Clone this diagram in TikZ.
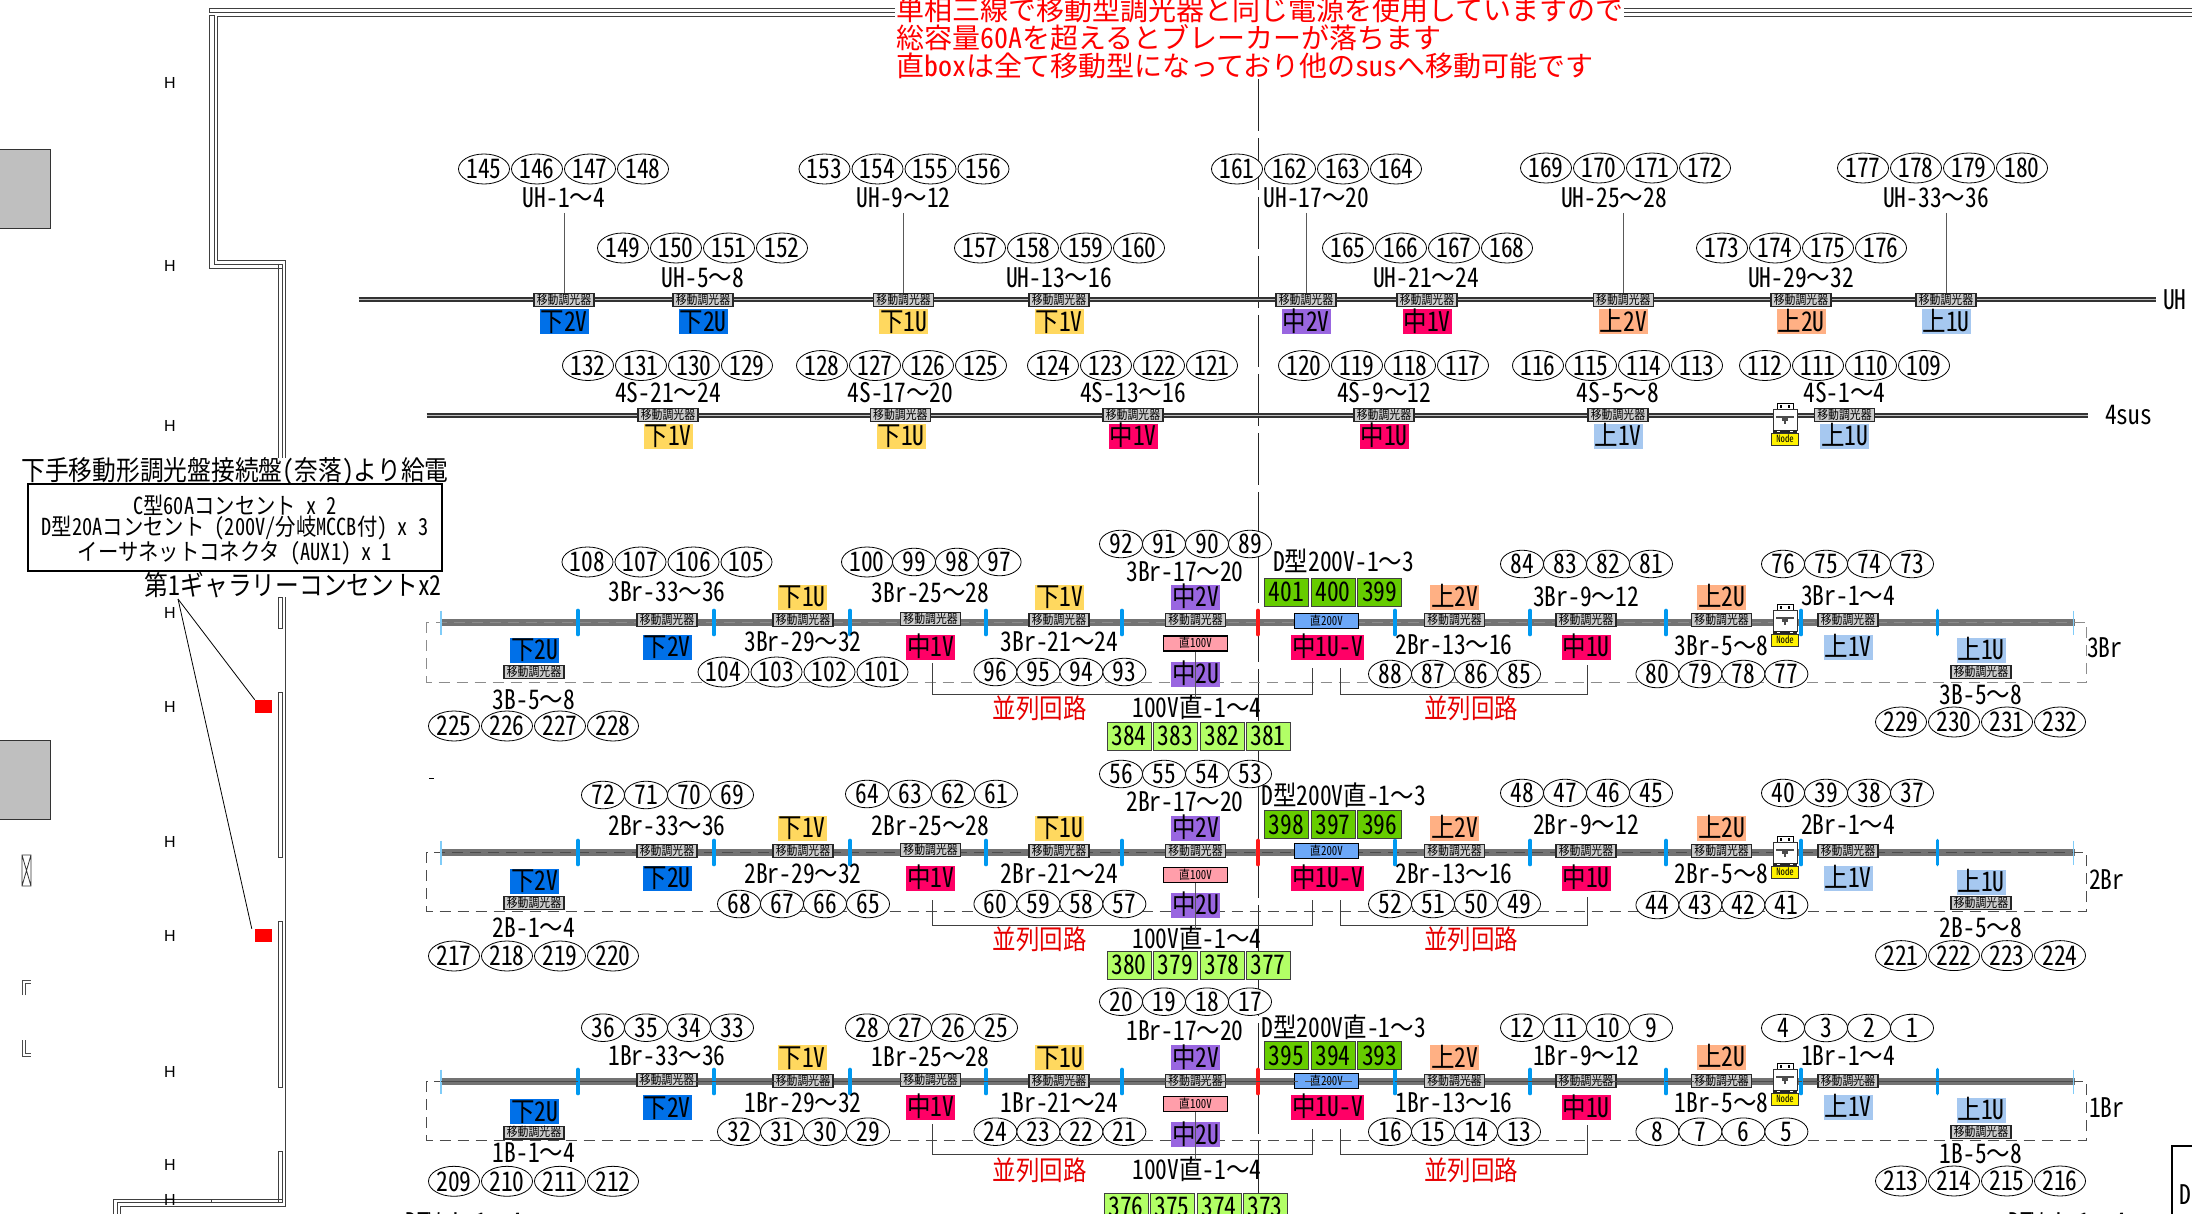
\documentclass[tikz,border=0pt]{standalone}
\usepackage{fontspec}
\usetikzlibrary{shapes.geometric}
\setmainfont{Noto Sans CJK JP}
\newfontfamily\lbf[FakeStretch=0.87]{Noto Sans CJK JP}
\newfontfamily\hwf[FakeStretch=0.87,RawFeature=+hwid]{Noto Sans CJK JP}
\newfontfamily\rdf{Noto Sans CJK JP}
\newfontfamily\rhw[RawFeature=+hwid]{Noto Sans CJK JP}
\newfontfamily\hf{Liberation Sans}
\newcommand\lbl{\fontsize{27}{27}\selectfont\hwf}
\newcommand\wv{{\lbf ～}}
\definecolor{cblue}{HTML}{0070E8}
\definecolor{cyel}{HTML}{FFD85F}
\definecolor{cpur}{HTML}{9966E0}
\definecolor{ccri}{HTML}{FF0066}
\definecolor{cora}{HTML}{FFB084}
\definecolor{clbl}{HTML}{A6C8F0}
\definecolor{cdg}{HTML}{66CC00}
\definecolor{clg}{HTML}{B2FF66}
\definecolor{ctick}{HTML}{0099F0}
\definecolor{redt}{HTML}{E60000}
\definecolor{d2c}{HTML}{6CA8F8}
\definecolor{d1c}{HTML}{FF9EAA}
\newcounter{nm}
\tikzset{
  ov/.style={ellipse,draw=black,fill=white,line width=.8pt,inner sep=0pt,minimum width=51pt,minimum height=30pt,font=\lbl,text height=19.5pt,text depth=0pt},
  ovs/.style={ov,minimum width=43pt,minimum height=27.5pt},
  lb/.style={inner sep=0pt,font=\lbl,text height=19.5pt,text depth=0pt},
  modu/.style={draw=black!85,line width=1.1pt,fill=black!20,inner sep=0pt,minimum width=60pt,minimum height=12.5pt,font=\fontsize{12.5}{12.5}\selectfont\lbf,text height=9.5pt,text depth=1pt},
  cbx/.style={inner sep=0pt,minimum width=49pt,minimum height=25pt,font=\lbl,text height=19.5pt,text depth=0pt},
  dkg/.style={draw=black!75,line width=.9pt,fill=cdg,inner sep=0pt,minimum width=44pt,minimum height=28pt,font=\lbl,text height=19.5pt,text depth=0pt},
  ltg/.style={dkg,fill=clg,minimum width=44pt},
  dbox/.style={draw=black,line width=1.6pt,inner sep=0pt,minimum width=64pt,minimum height=15pt,font=\fontsize{12.5}{12.5}\selectfont\hwf,text height=9.5pt,text depth=1pt},
  ynode/.style={draw=black!80,line width=.8pt,fill=yellow,inner sep=0pt,minimum width=27pt,minimum height=12pt,font=\fontsize{10}{10}\selectfont\hwf},
  conn/.style={draw=black!75,line width=.9pt},
  wl/.style={draw=black!75,line width=.9pt},
  hm/.style={inner sep=0pt,font=\fontsize{16}{16}\selectfont\hf},
  redl/.style={inner sep=0pt,text=redt,font=\fontsize{27}{27}\selectfont\lbf,text height=19.5pt,text depth=0pt},
  tickb/.style={draw=ctick,line width=3.6pt,line cap=round},
  tickl/.style={draw=ctick!50,line width=1.6pt},
  tickr/.style={draw=red!90,line width=3.6pt,line cap=round},
  uhl/.style={draw=black!80,line width=5pt},
  uhc/.style={draw=black!25,line width=1pt},
  grl/.style={draw=black!55,line width=7pt},
  rdash/.style={dash pattern=on 11pt off 7pt,line width=.9pt}
}
\newcommand\ovr[8]{%
  \node[#1] (o#5) at (#2,#3) {#5};
  \node[#1] (o#6) at ({#2+#4},#3) {#6};
  \node[#1] (o#7) at ({#2+2*#4},#3) {#7};
  \node[#1] (o#8) at ({#2+3*#4},#3) {#8};}
\newcommand\lab[3]{\stepcounter{nm}\node[lb] (l\arabic{nm}) at (#1,#2) {#3};}
\newcommand\md[2]{\stepcounter{nm}\node[modu] (m\arabic{nm}) at (#1,#2) {移動調光器};}
\newcommand\cb[4]{\stepcounter{nm}\node[cbx,fill=#1] (c\arabic{nm}) at (#2,#3) {#4};}
\newcommand\trio[4]{\node[dkg] (g#2) at (1286.6,#1) {#2};\node[dkg] (g#3) at (1333,#1) {#3};\node[dkg] (g#4) at (1379.6,#1) {#4};}
\newcommand\nsym[2]{\stepcounter{nm}\begin{scope}[shift={(#1,#2)}]
  \draw[black,fill=white,line width=.8pt] (-8,0) rectangle (8,7);
  \fill[black] (-5,2) rectangle (-3,5); \fill[black] (3,2) rectangle (5,5);
  \draw[black!80,fill=white,line width=.7pt] (-12,6) rectangle (12,27);
  \fill[black!70] (-9,13) rectangle (9,15); \fill[black!70] (-3,15) rectangle (3,18); \fill[black!70] (-1,18) rectangle (1,21);
  \fill[black!85] (-12,27) rectangle (12,30); \fill[white] (-8,28) rectangle (-5,29); \fill[white] (5,28) rectangle (8,29);
  \node[ynode] (ns\arabic{nm}) at (0,36) {Node};
\end{scope}}
\newcommand\brbg[3]{%
  \draw[grl] (441,#1) -- (2075,#1);
  \draw[rdash,draw=#3] (426.5,#1) rectangle (2086.6,#2);
  \foreach \xx in {578,714,850,986,1122,1395,1530,1666,1801,1937.6} {\draw[tickb] (\xx,{#1-11.5}) -- (\xx,{#1+12.5});}
  \foreach \xx in {441,2073.6} {\draw[tickl] (\xx,{#1-11.5}) -- (\xx,{#1+12.5});}
  \draw[tickr] (1258,{#1-11.5}) -- (1258,{#1+12.5});}
\newcommand\brk[5]{\stepcounter{nm}%
  \coordinate (ba\arabic{nm}) at (#1,#2); \coordinate (bb\arabic{nm}) at (#3,#4); \coordinate (bm\arabic{nm}) at (#3,#5);
  \draw[conn] (ba\arabic{nm}) |- (bm\arabic{nm}) -- (bb\arabic{nm});}
\begin{document}
\begin{tikzpicture}[x=1pt,y=-1pt]
\useasboundingbox (0,0) rectangle (2192,1214);
\clip (0,0) rectangle (2192,1214);
% walls
\draw[wl] (895,8) -- (209.5,8) -- (209.5,12) -- (895,12);
\draw[wl] (895,16) -- (217.5,16) -- (217.5,260) -- (285,260) -- (285,458);
\draw[wl] (1624,8) -- (2192,8) (1624,12) -- (2192,12) (1624,16) -- (2192,16);
\draw[wl] (209.5,15) -- (209.5,268) -- (282,268) (214,15) -- (214,264) -- (282,264) (209.5,15) -- (214,15);
\draw[wl] (278,264) -- (278,458) (282,264) -- (282,458);
\draw[wl] (285,597) -- (285,1206) -- (120,1206) -- (120,1214);
\foreach \ya/\yb in {597/628,692/857,921/1087,1151/1202} {\draw[wl] (278,\ya) rectangle (282,\yb);}
\draw[wl] (282,1199) -- (113,1199) -- (113,1214) (278,1202) -- (117,1202) -- (117,1214) (211,1199) -- (211,1202);
% grey blocks and small marks
\draw[black!80,fill=black!25,line width=1pt] (-2,150) rectangle (50,229);
\draw[black!80,fill=black!25,line width=1pt] (-2,740) rectangle (50,819);
\draw[black!80,line width=.8pt] (22,855) rectangle (31,886) (22,855) -- (31,886) (31,855) -- (22,886);
\draw[black!70,line width=.7pt] (22,995) -- (22,980) -- (31,980) (25,995) -- (25,983) -- (31,983);
\draw[black!70,line width=.7pt] (22,1040) -- (22,1056) -- (31,1056) (25,1040) -- (25,1053) -- (31,1053);
\draw[black,line width=.8pt] (429,778) -- (434,778);
% H marks
\foreach \yy [count=\i] in {83,266,426,613,707,842,936,1072,1165,1200} {\node[hm] (h\i) at (170,\yy) {H};}
% centre line
\coordinate (cla) at (1258,79); \coordinate (clb) at (1258,1214);
\draw[black!85,line width=.9pt,dash pattern=on 52pt off 7pt] (cla) -- (clb);
% top text
\node[inner sep=0pt,anchor=west,text=red,font=\fontsize{28}{28}\selectfont\rdf] (t1) at (896,10) {単相三線で移動型調光器と同じ電源を使用していますので};
\node[inner sep=0pt,anchor=west,text=red,font=\fontsize{28}{28}\selectfont\rdf] (t2) at (896,38) {総容量{\rhw 60A}を超えるとブレーカーが落ちます};
\node[inner sep=0pt,anchor=west,text=red,font=\fontsize{28}{28}\selectfont\rdf] (t3) at (896,66) {直{\rhw box}は全て移動型になっており他の{\rhw sus}へ移動可能です};
% power box
\node[inner sep=0pt,font=\fontsize{27.3}{27.3}\selectfont\lbf] (pw) at (235,472) {下手移動形調光盤接続盤{\hwf (}奈落{\hwf )}より給電};
\node[draw=black,fill=white,line width=1.8pt,minimum width=414pt,minimum height=87pt,inner sep=0pt] (box) at (235,527.5) {};
\node[inner sep=0pt,align=center,font=\fontsize{23.4}{21.5}\selectfont\lbf] (boxt) at (235,530) {{\hwf C}型{\hwf 60A}コンセント{\hwf\ x 2}\\{\hwf D}型{\hwf 20A}コンセント{\hwf\ (200V/}分岐{\hwf MCCB}付{\hwf ) x 3}\\イーサネットコネクタ{\hwf\ (AUX1) x 1}};
\node[inner sep=0pt,anchor=east,font=\fontsize{27.3}{27.3}\selectfont\lbf] (gal) at (442,585) {第{\hwf 1}ギャラリーコンセント{\hwf x2}};
\node[fill=red,inner sep=0pt,minimum width=17pt,minimum height=13pt] (rs1) at (263.5,706.5) {};
\node[fill=red,inner sep=0pt,minimum width=17pt,minimum height=13pt] (rs2) at (263.5,935.5) {};
\coordinate (gp) at (178,599);
\draw[black,line width=.8pt] (gp) -- (rs1.north west);
\draw[black,line width=.8pt] (gp) -- ([xshift=-3pt]rs2.north west);
% ------ UH
\draw[uhl] (358.5,300) -- (2156,300); \draw[uhc] (358.5,300) -- (2156,300);
\ovr{ov}{484}{169}{53}{145}{146}{147}{148}
\ovr{ov}{623}{248}{53}{149}{150}{151}{152}
\ovr{ov}{824.5}{169}{53}{153}{154}{155}{156}
\ovr{ov}{980}{248}{53}{157}{158}{159}{160}
\ovr{ov}{1237}{169}{53}{161}{162}{163}{164}
\ovr{ov}{1348}{248}{53}{165}{166}{167}{168}
\ovr{ov}{1546}{168}{53}{169}{170}{171}{172}
\ovr{ov}{1722}{248}{53}{173}{174}{175}{176}
\ovr{ov}{1863}{168}{53}{177}{178}{179}{180}
\node[lb] (u1) at (564,198) {UH-1\wv 4};
\lab{703}{278}{UH-5\wv 8}
\node[lb] (u2) at (903.6,198) {UH-9\wv 12};
\lab{1059}{278}{UH-13\wv 16}
\node[lb] (u3) at (1316.6,198) {UH-17\wv 20};
\lab{1426}{278}{UH-21\wv 24}
\node[lb] (u4) at (1614,198) {UH-25\wv 28};
\lab{1801}{278}{UH-29\wv 32}
\node[lb] (u5) at (1936,198) {UH-33\wv 36};
\node[modu] (mu1) at (564,300) {移動調光器};
\md{703}{300}
\node[modu] (mu2) at (903.6,300) {移動調光器};
\md{1059}{300}
\node[modu] (mu3) at (1306,300) {移動調光器};
\md{1427}{300}
\node[modu] (mu4) at (1623.4,300) {移動調光器};
\md{1801}{300}
\node[modu] (mu5) at (1946,300) {移動調光器};
\foreach \k in {1,...,5} {\draw[black!65,line width=.9pt] (mu\k.center |- 0,213) -- (mu\k.north);}
\cb{cblue}{564}{322}{下2V}
\cb{cblue}{703}{322}{下2U}
\cb{cyel}{903.6}{322}{下1U}
\cb{cyel}{1059}{322}{下1V}
\cb{cpur}{1306}{322}{中2V}
\cb{ccri}{1427}{322}{中1V}
\cb{cora}{1623.4}{322}{上2V}
\cb{cora}{1801}{322}{上2U}
\cb{clbl}{1946}{322}{上1U}
\node[lb,anchor=west] (uh) at (2163,300) {UH};
% ------ 4sus
\draw[uhl] (426.5,415) -- (2088,415); \draw[uhc] (426.5,415) -- (2088,415);
\ovr{ov}{588}{365.5}{53}{132}{131}{130}{129}
\ovr{ov}{822}{365.5}{53}{128}{127}{126}{125}
\ovr{ov}{1053}{365.5}{53}{124}{123}{122}{121}
\ovr{ov}{1304}{365.5}{53}{120}{119}{118}{117}
\ovr{ov}{1538}{365.5}{53}{116}{115}{114}{113}
\ovr{ov}{1765}{365.5}{53}{112}{111}{110}{109}
\lab{668}{393}{4S-21\wv 24}
\lab{900.4}{393}{4S-17\wv 20}
\lab{1133}{393}{4S-13\wv 16}
\lab{1384}{393}{4S-9\wv 12}
\lab{1618}{393}{4S-5\wv 8}
\lab{1844.5}{393}{4S-1\wv 4}
\md{668}{415}\md{900.4}{415}\md{1133}{415}\md{1384}{415}\md{1618}{415}\md{1844.5}{415}
\cb{cyel}{668}{436}{下1V}
\cb{cyel}{901}{436}{下1U}
\cb{ccri}{1133}{436}{中1V}
\cb{ccri}{1384}{436}{中1U}
\cb{clbl}{1618}{436}{上1V}
\cb{clbl}{1844.5}{436}{上1U}
\nsym{1785}{403}
\node[lb,anchor=west] (s4) at (2105,415) {4sus};
% ------ 3Br
\brbg{622}{682}{black!45}
\ovr{ov}{587.5}{562}{53}{108}{107}{106}{105}
\lab{667}{592}{3Br-33\wv 36}
\ovr{ov}{723.5}{672}{53}{104}{103}{102}{101}
\lab{803}{642}{3Br-29\wv 32}
\node[ov] (o100) at (867,562) {100};
\node[ovs] (o99) at (914,562) {99};\node[ovs] (o98) at (957,562) {98};\node[ovs] (o97) at (999.6,562) {97};
\lab{930.6}{593}{3Br-25\wv 28}
\ovr{ovs}{995.4}{672}{43}{96}{95}{94}{93}
\lab{1059.6}{642}{3Br-21\wv 24}
\ovr{ovs}{1121}{544}{43}{92}{91}{90}{89}
\lab{1185}{572}{3Br-17\wv 20}
\lab{1343.6}{562}{D型200V-1\wv 3}
\ovr{ovs}{1390}{674}{43}{88}{87}{86}{85}
\lab{1454}{645}{2Br-13\wv 16}
\ovr{ovs}{1522}{564}{43}{84}{83}{82}{81}
\lab{1586}{597}{3Br-9\wv 12}
\ovr{ovs}{1657.4}{674}{43}{80}{79}{78}{77}
\lab{1721.6}{646}{3Br-5\wv 8}
\ovr{ovs}{1783}{564}{43}{76}{75}{74}{73}
\lab{1848}{596}{3Br-1\wv 4}
\lab{534}{700}{3B-5\wv 8}
\ovr{ov}{454}{726}{53}{225}{226}{227}{228}
\lab{1981}{695}{3B-5\wv 8}
\ovr{ov}{1901}{722}{53}{229}{230}{231}{232}
\md{667}{620}\md{534}{672}\md{803}{620}\md{930.6}{619}\md{1059}{620}\md{1195.5}{620}\md{1454.5}{620}\md{1586}{620}\md{1721.6}{620}\md{1848}{620}\md{1981}{672}
\cb{cblue}{534.5}{650}{下2U}
\cb{cblue}{667}{647}{下2V}
\cb{cyel}{802}{597}{下1U}
\cb{ccri}{930.6}{647}{中1V}
\cb{cyel}{1059.6}{597}{下1V}
\cb{cpur}{1195.5}{597}{中2V}
\cb{cpur}{1195.5}{674}{中2U}
\node[cbx,fill=ccri,minimum width=73pt] (c1uv3) at (1327.5,647) {中1U-V};
\cb{cora}{1454.6}{597}{上2V}
\cb{ccri}{1586}{647}{中1U}
\cb{cora}{1721.6}{597}{上2U}
\cb{clbl}{1848}{647}{上1V}
\cb{clbl}{1981}{650}{上1U}
\node[dbox,fill=d2c] (d200c) at (1326.5,621) {直200V};
\node[dbox,fill=d1c] (d100c) at (1195.5,643.5) {直100V};
\trio{592}{401}{400}{399}
\node[ltg] (g384) at (1129,736) {384};\node[ltg] (g383) at (1175.5,736) {383};\node[ltg] (g382) at (1222,736) {382};\node[ltg] (g381) at (1268,736) {381};
\nsym{1785}{604}
\node[lb] (v3) at (1197,708) {100V直-1\wv 4};
\draw[black!65,line width=.9pt] (d100c.south) -- (1195.5,698);
\brk{932.5}{663}{1312.4}{668}{694}
\brk{1340}{668}{1587}{665}{694}
\node[redl] (p31) at (1039.6,709) {並列回路};
\node[redl] (p32) at (1471,709) {並列回路};
\node[lb,anchor=west] (r3) at (2087,648) {3Br};
% ------ 2Br
\brbg{852}{911}{black!70}
\ovr{ovs}{603}{795}{43}{72}{71}{70}{69}
\lab{667}{825.6}{2Br-33\wv 36}
\ovr{ovs}{739}{904}{43}{68}{67}{66}{65}
\lab{803}{874}{2Br-29\wv 32}
\ovr{ovs}{867}{794}{43}{64}{63}{62}{61}
\lab{930.6}{826}{2Br-25\wv 28}
\ovr{ovs}{995.4}{904}{43}{60}{59}{58}{57}
\lab{1059.6}{874}{2Br-21\wv 24}
\ovr{ovs}{1121}{774}{43}{56}{55}{54}{53}
\lab{1185}{802}{2Br-17\wv 20}
\lab{1343.6}{796}{D型200V直-1\wv 3}
\ovr{ovs}{1390}{904}{43}{52}{51}{50}{49}
\lab{1454}{874}{2Br-13\wv 16}
\ovr{ovs}{1522}{793}{43}{48}{47}{46}{45}
\lab{1586}{825}{2Br-9\wv 12}
\ovr{ovs}{1657.4}{905}{43}{44}{43}{42}{41}
\lab{1721.6}{874}{2Br-5\wv 8}
\ovr{ovs}{1783}{793}{43}{40}{39}{38}{37}
\lab{1848}{825}{2Br-1\wv 4}
\lab{534}{928}{2B-1\wv 4}
\ovr{ov}{454}{956}{53}{217}{218}{219}{220}
\lab{1981}{928}{2B-5\wv 8}
\ovr{ov}{1901}{955.6}{53}{221}{222}{223}{224}
\md{667}{851}\md{534}{903}\md{803}{851}\md{930.6}{850}\md{1059}{851}\md{1195.5}{851}\md{1454.5}{851}\md{1586}{851}\md{1721.6}{851}\md{1848}{851}\md{1981}{903}
\cb{cblue}{534.5}{881}{下2V}
\cb{cblue}{667}{878}{下2U}
\cb{cyel}{802}{828}{下1V}
\cb{ccri}{930.6}{878}{中1V}
\cb{cyel}{1059.6}{828}{下1U}
\cb{cpur}{1195.5}{828}{中2V}
\cb{cpur}{1195.5}{905}{中2U}
\node[cbx,fill=ccri,minimum width=73pt] (c1uv2) at (1327.5,878) {中1U-V};
\cb{cora}{1454.6}{828}{上2V}
\cb{ccri}{1586}{878}{中1U}
\cb{cora}{1721.6}{828}{上2U}
\cb{clbl}{1848}{878}{上1V}
\cb{clbl}{1981}{882}{上1U}
\node[dbox,fill=d2c] (d200b) at (1326.5,851) {直200V};
\node[dbox,fill=d1c] (d100b) at (1195.5,875) {直100V};
\trio{824.6}{398}{397}{396}
\node[ltg] (g380) at (1129,965) {380};\node[ltg] (g379) at (1175.5,965) {379};\node[ltg] (g378) at (1222,965) {378};\node[ltg] (g377) at (1268,965) {377};
\nsym{1785}{836}
\node[lb] (v2) at (1197,939) {100V直-1\wv 4};
\draw[black!65,line width=.9pt] (d100b.south) -- (1195.5,929);
\brk{932.5}{900}{1312.4}{900}{925}
\brk{1340}{900}{1587}{897}{925}
\node[redl] (p21) at (1039.6,940) {並列回路};
\node[redl] (p22) at (1471,940) {並列回路};
\node[lb,anchor=west] (r2) at (2089,880) {2Br};
% ------ 1Br
\brbg{1081}{1140}{black!70}
\ovr{ovs}{603}{1027.7}{43}{36}{35}{34}{33}
\lab{667}{1056}{1Br-33\wv 36}
\ovr{ovs}{739}{1131.7}{43}{32}{31}{30}{29}
\lab{803}{1102.7}{1Br-29\wv 32}
\ovr{ovs}{867}{1027.7}{43}{28}{27}{26}{25}
\lab{930.6}{1056.7}{1Br-25\wv 28}
\ovr{ovs}{995.4}{1131.7}{43}{24}{23}{22}{21}
\lab{1059.6}{1102.7}{1Br-21\wv 24}
\ovr{ovs}{1121}{1001.7}{43}{20}{19}{18}{17}
\lab{1185}{1030.7}{1Br-17\wv 20}
\lab{1343.6}{1028}{D型200V直-1\wv 3}
\ovr{ovs}{1390}{1131.7}{43}{16}{15}{14}{13}
\lab{1454}{1102.7}{1Br-13\wv 16}
\ovr{ovs}{1522}{1027.7}{43}{12}{11}{10}{9}
\lab{1586}{1056}{1Br-9\wv 12}
\ovr{ovs}{1657.4}{1131.7}{43}{8}{7}{6}{5}
\lab{1721.6}{1102.7}{1Br-5\wv 8}
\ovr{ovs}{1783}{1028}{43}{4}{3}{2}{1}
\lab{1848}{1056}{1Br-1\wv 4}
\lab{534}{1152.7}{1B-1\wv 4}
\ovr{ov}{454}{1181.3}{53}{209}{210}{211}{212}
\lab{1981}{1154}{1B-5\wv 8}
\ovr{ov}{1901}{1181}{53}{213}{214}{215}{216}
\md{667}{1080}\md{534}{1132.7}\md{803}{1081}\md{930.6}{1080}\md{1059}{1081}\md{1195.5}{1081}\md{1454.5}{1081}\md{1586}{1081}\md{1721.6}{1081}\md{1848}{1081}\md{1981}{1132}
\cb{cblue}{534.5}{1111.7}{下2U}
\cb{cblue}{667}{1107.7}{下2V}
\cb{cyel}{802}{1057.7}{下1V}
\cb{ccri}{930.6}{1107}{中1V}
\cb{cyel}{1059.6}{1057.7}{下1U}
\cb{cpur}{1195.5}{1057.7}{中2V}
\cb{cpur}{1195.5}{1134.3}{中2U}
\node[cbx,fill=ccri,minimum width=73pt] (c1uv1) at (1327.5,1107) {中1U-V};
\cb{cora}{1454.6}{1057.7}{上2V}
\cb{ccri}{1586}{1107.3}{中1U}
\cb{cora}{1721.6}{1057}{上2U}
\cb{clbl}{1848}{1107}{上1V}
\cb{clbl}{1981}{1110}{上1U}
\node[dbox,fill=d2c] (d200a) at (1326.5,1081) {直200V};
\node[dbox,fill=d1c] (d100a) at (1195.5,1104) {直100V};
\trio{1055.5}{395}{394}{393}
\node[ltg] (g376) at (1126,1207) {376};\node[ltg] (g375) at (1172,1207) {375};\node[ltg] (g374) at (1219,1207) {374};\node[ltg] (g373) at (1265,1207) {373};
\draw[rdash,draw=black!70] (441,1081) -- (2075,1081);
\nsym{1785}{1063}
\node[lb] (v1) at (1197,1170) {100V直-1\wv 4};
\draw[black!65,line width=.9pt] (d100a.south) -- (1195.5,1160);
\brk{932.5}{1124}{1312.4}{1129}{1154}
\brk{1340}{1129}{1587}{1125}{1154}
\node[redl] (p11) at (1039.6,1170.7) {並列回路};
\node[redl] (p12) at (1471,1170.7) {並列回路};
\node[lb,anchor=west] (r1) at (2089,1108) {1Br};
% bottom edge
\node[lb] (bl) at (464,1223) {DTW-L-1\wv 4};
\node[lb] (br) at (2067,1223) {DTW-L-1\wv 4};
\draw[black,line width=1.6pt] (2172,1214) -- (2172,1146) -- (2192,1146);
\node[lb,anchor=west] (dd) at (2179,1195) {D};
\end{tikzpicture}
\end{document}
